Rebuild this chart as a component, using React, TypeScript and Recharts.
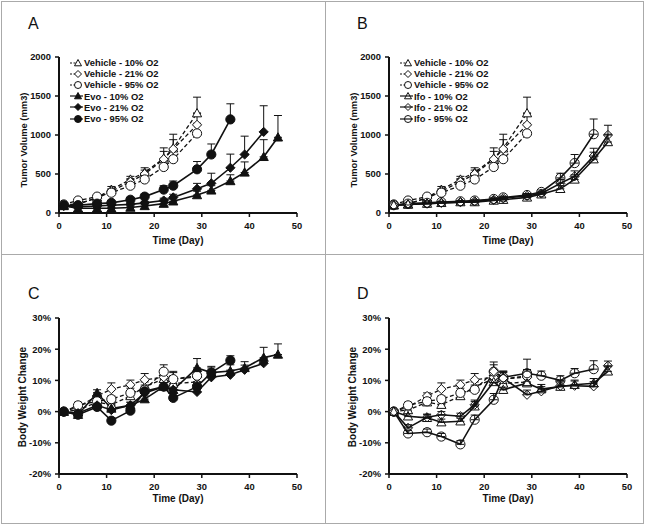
import React from "react";
import { LineChart, Line, XAxis, YAxis, ErrorBar } from "recharts";

const DAYS = [1, 4, 8, 11, 15, 18, 22, 24, 29, 32, 36, 39, 43, 46];
const X_TICKS = [0, 10, 20, 30, 40, 50];
const TV_TICKS = [0, 500, 1000, 1500, 2000];
const BW_TICKS = [-20, -10, 0, 10, 20, 30];

// tumor volume (mm3)
const vehTv10 = [100, 110, 200, 300, 430, 520, 700, 830, 1280];
const vehTv21 = [100, 120, 190, 280, 400, 500, 690, 820, 1130];
const vehTv95 = [110, 160, 210, 260, 350, 430, 590, 690, 1020];
const vehTv10Err = [10, 15, 20, 40, 40, 60, 135, 180, 205];
const vehTv21Err = [10, 10, 20, 30, 40, 50, 100, 120, 150];
const vehTv95Err = [10, 10, 20, 30, 40, 50, 80, 100, 130];

const evoTv10 = [90, 60, 60, 60, 70, 90, 120, 150, 230, 290, 410, 520, 720, 970];
const evoTv21 = [90, 80, 90, 100, 110, 130, 160, 200, 310, 380, 580, 750, 1040];
const evoTv95 = [100, 100, 120, 130, 170, 210, 300, 350, 560, 750, 1200];
const evoTv10Err = [10, 10, 10, 10, 15, 20, 30, 30, 50, 60, 80, 135, 220, 280];
const evoTv21Err = [10, 10, 10, 10, 20, 20, 30, 40, 70, 130, 175, 235, 335];
const evoTv95Err = [10, 10, 15, 20, 30, 30, 50, 60, 100, 135, 200];

const ifoTv10 = [100, 110, 120, 130, 140, 140, 160, 170, 200, 240, 310, 430, 690, 910];
const ifoTv21 = [100, 110, 120, 130, 140, 150, 170, 190, 220, 250, 380, 470, 730, 1000];
const ifoTv95 = [100, 120, 130, 140, 150, 160, 180, 200, 230, 270, 450, 640, 1010];
const ifoTv10Err = [10, 10, 10, 10, 10, 10, 15, 15, 20, 20, 40, 60, 90, 100];
const ifoTv21Err = [10, 10, 10, 10, 10, 10, 15, 15, 20, 20, 50, 70, 100, 125];
const ifoTv95Err = [10, 10, 10, 10, 10, 10, 15, 15, 20, 25, 60, 110, 195];

// body weight change (%)
const vehBw10 = [0, 0.5, 3, 2.2, 5, 8, 10.5, 9, 9.5];
const vehBw21 = [0, 1.5, 5, 7.2, 8.6, 10.2, 11, 10.5, 11];
const vehBw95 = [0, 2, 3.3, 4, 6, 7, 12.8, 10.4, 11.5];
const vehBw10Err = [0.5, 1, 1, 1, 1.5, 1.5, 2, 2, 3];
const vehBw21Err = [0.5, 1, 1, 2, 1.5, 2, 2, 2, 2];
const vehBw95Err = [0.5, 1, 1, 1, 1.5, 1.5, 2.2, 2.5, 2];

const evoBw10 = [0, -1, 6, 1, 2, 4, 8, 7, 14, 12.5, 13, 14, 17.3, 18.3];
const evoBw21 = [0, -0.5, 2, 0.5, 2, 6, 8, 7, 6.3, 11, 11.8, 13.4, 15.5];
const evoBw95 = [0, -1, 1.5, -2.9, 0.3, 6.5, 8, 4.4, 8, 12.5, 16.4];
const evoBw10Err = [0.5, 1, 1, 1, 1, 1, 1.5, 1.5, 3, 2, 2, 2, 3.3, 3.4];
const evoBw21Err = [0.5, 1, 1, 1, 1, 1, 1.5, 1.5, 1.5, 1.5, 1.5, 1.5, 1.5];
const evoBw95Err = [0.5, 1, 1, 1, 1, 1, 1.5, 1.5, 1.5, 1.5, 1.5];

const ifoBw10 = [0, -1.5, -2, -3.4, -3.1, 1.7, 9.5, 7, 9.1, 7.2, 8, 8.6, 9.1, 12.9];
const ifoBw21 = [0, -5.2, -1.8, -1, -1.5, 2.2, 12.9, 10.7, 5.4, 6.5, 8.3, 8.3, 8.1, 14.7];
const ifoBw95 = [0, -7, -6.6, -8, -10.5, -2.6, 3.8, 11, 12.3, 11.5, 10, 12.3, 13.6];
const ifoBw10Err = [0.5, 1, 1, 1, 1, 1.5, 2, 1.5, 1.5, 1.5, 1.5, 1.5, 1.5, 1.5];
const ifoBw21Err = [0.5, 1, 1, 1, 1, 1.5, 3, 2, 1.5, 1.5, 1.5, 1.5, 1.5, 1.5];
const ifoBw95Err = [0.5, 1, 1, 1, 1.2, 1.5, 2, 2, 4.5, 1.5, 1.5, 1.5, 2.7];

const VEH_LABELS = ["Vehicle - 10% O2", "Vehicle - 21% O2", "Vehicle - 95% O2"];
const EVO_LABELS = ["Evo - 10% O2", "Evo - 21% O2", "Evo - 95% O2"];
const IFO_LABELS = ["Ifo - 10% O2", "Ifo - 21% O2", "Ifo - 95% O2"];

type Shape = "triangle" | "diamond" | "circle";
type Series = { key: string; vals: number[]; errs: number[]; shape: Shape; fill: string; dashed: boolean; label: string };

const FONT = "'Liberation Sans', Arial, sans-serif";
const INK = "#111";

function makeSeries(prefix: string, vals: number[][], errs: number[][], fill: string, dashed: boolean, labels: string[]): Series[] {
  const shapes: Shape[] = ["triangle", "diamond", "circle"];
  return vals.map((v, i) => ({ key: prefix + i, vals: v, errs: errs[i], shape: shapes[i], fill, dashed, label: labels[i] }));
}

function buildRows(series: Series[]) {
  return DAYS.map((d, i) => {
    const r: any = { day: d };
    series.forEach((s) => {
      if (i < s.vals.length) {
        r[s.key] = s.vals[i];
        r[s.key + "E"] = [0, s.errs[i]];
      }
    });
    return r;
  });
}

function Marker({ cx, cy, shape, fill, s }: { cx: number; cy: number; shape: Shape; fill: string; s: number }) {
  const st = { fill, stroke: INK, strokeWidth: 1 };
  if (shape === "circle") return <circle cx={cx} cy={cy} r={s} {...st} />;
  if (shape === "diamond")
    return <polygon points={`${cx},${cy - s} ${cx + s},${cy} ${cx},${cy + s} ${cx - s},${cy}`} {...st} />;
  return <polygon points={`${cx},${cy - s} ${cx + s},${cy + s * 0.8} ${cx - s},${cy + s * 0.8}`} {...st} />;
}

function Legend({ series, left, top }: { series: Series[]; left: number; top: number }) {
  return (
    <div style={{ position: "absolute", left, top, fontFamily: FONT, fontSize: 9.4, fontWeight: 700, color: INK }}>
      {series.map((s) => (
        <div key={s.key} style={{ display: "flex", alignItems: "center", height: 11.2, whiteSpace: "nowrap" }}>
          <svg width={13} height={10} style={{ marginRight: 1 }}>
            <line x1={0} y1={5} x2={s.dashed ? 8 : 13} y2={5} stroke={INK} strokeWidth={1.2} strokeDasharray={s.dashed ? "2 1.5" : undefined} />
            <Marker cx={8} cy={5} shape={s.shape} fill={s.fill} s={3.5} />
          </svg>
          {s.label}
        </div>
      ))}
    </div>
  );
}

type PanelProps = {
  series: Series[];
  left: number;
  top: number;
  width: number;
  height: number;
  margin: { top: number; right: number; bottom: number; left: number };
  yDomain: [number, number];
  yTicks: number[];
  pct?: boolean;
};

const tickStyle = { fill: INK, fontSize: 9.4, fontWeight: 700, fontFamily: FONT };

function Panel({ series, left, top, width, height, margin, yDomain, yTicks, pct }: PanelProps) {
  const rows = buildRows(series);
  return (
    <div style={{ position: "absolute", left, top }}>
      <LineChart width={width} height={height} data={rows} margin={margin}>
        <XAxis
          dataKey="day"
          type="number"
          domain={[0, 50]}
          ticks={X_TICKS}
          height={25}
          tick={tickStyle}
          tickSize={4}
          tickMargin={5}
          axisLine={{ stroke: INK, strokeWidth: 2 }}
          tickLine={{ stroke: INK, strokeWidth: 1.5 }}
        />
        <YAxis
          type="number"
          domain={yDomain}
          ticks={yTicks}
          width={45}
          tick={tickStyle}
          tickSize={4}
          tickMargin={4}
          tickFormatter={(v) => (pct ? `${v}%` : `${v}`)}
          axisLine={{ stroke: INK, strokeWidth: 2 }}
          tickLine={{ stroke: INK, strokeWidth: 1.5 }}
        />
        {series.map((s) => (
          <Line
            key={s.key}
            dataKey={s.key}
            stroke={INK}
            strokeWidth={s.dashed ? 1.3 : 1.6}
            strokeDasharray={s.dashed ? "4 2.5" : undefined}
            isAnimationActive={false}
            dot={(p: any) =>
              p.cx == null || p.cy == null || p.value == null ? (
                <g key={s.key + p.index} />
              ) : (
                <g key={s.key + p.index}>
                  <Marker cx={p.cx} cy={p.cy} shape={s.shape} fill={s.fill} s={4.6} />
                </g>
              )
            }
            activeDot={false}
          >
            <ErrorBar dataKey={s.key + "E"} width={4} stroke={INK} strokeWidth={1} direction="y" />
          </Line>
        ))}
      </LineChart>
    </div>
  );
}

const vehTv = makeSeries("vt", [vehTv10, vehTv21, vehTv95], [vehTv10Err, vehTv21Err, vehTv95Err], "#fff", true, VEH_LABELS);
const evoTv = makeSeries("et", [evoTv10, evoTv21, evoTv95], [evoTv10Err, evoTv21Err, evoTv95Err], INK, false, EVO_LABELS);
const ifoTv = makeSeries("it", [ifoTv10, ifoTv21, ifoTv95], [ifoTv10Err, ifoTv21Err, ifoTv95Err], "none", false, IFO_LABELS);
const vehBw = makeSeries("vb", [vehBw10, vehBw21, vehBw95], [vehBw10Err, vehBw21Err, vehBw95Err], "#fff", true, VEH_LABELS);
const evoBw = makeSeries("eb", [evoBw10, evoBw21, evoBw95], [evoBw10Err, evoBw21Err, evoBw95Err], INK, false, EVO_LABELS);
const ifoBw = makeSeries("ib", [ifoBw10, ifoBw21, ifoBw95], [ifoBw10Err, ifoBw21Err, ifoBw95Err], "none", false, IFO_LABELS);

const letterStyle: React.CSSProperties = { position: "absolute", fontFamily: FONT, fontSize: 16, color: INK };
const titleStyle: React.CSSProperties = { position: "absolute", fontFamily: FONT, fontSize: 10, fontWeight: 700, color: INK, whiteSpace: "nowrap" };

function YTitle({ text, x, y, size }: { text: string; x: number; y: number; size: number }) {
  return (
    <div style={{ ...titleStyle, fontSize: size, left: x, top: y, transform: "translate(-50%, -50%) rotate(-90deg)" }}>{text}</div>
  );
}

function XTitle({ x, y }: { x: number; y: number }) {
  return <div style={{ ...titleStyle, left: x, top: y, transform: "translate(-50%, -50%)" }}>Time (Day)</div>;
}

export default function App() {
  const topMargin = { top: 57, right: 25, bottom: 16, left: 14 };
  const topMarginB = { top: 57, right: 18, bottom: 16, left: 19 };
  const botMargin = { top: 64, right: 25, bottom: 25, left: 14 };
  const botMarginD = { top: 64, right: 18, bottom: 25, left: 19 };
  return (
    <div style={{ position: "absolute", left: 0, top: 0, width: 645, height: 525, background: "#fff", overflow: "hidden" }}>
      <div style={{ position: "absolute", left: 1, top: 1, width: 641, height: 521, border: "1px solid #aaa" }} />
      <div style={{ position: "absolute", left: 325, top: 1, width: 1, height: 522, background: "#aaa" }} />
      <div style={{ position: "absolute", left: 1, top: 254, width: 642, height: 1, background: "#aaa" }} />

      <div style={{ ...letterStyle, left: 28, top: 15 }}>A</div>
      <div style={{ ...letterStyle, left: 357, top: 15 }}>B</div>
      <div style={{ ...letterStyle, left: 28, top: 285 }}>C</div>
      <div style={{ ...letterStyle, left: 357, top: 285 }}>D</div>

      <Panel series={[...vehTv, ...evoTv]} left={0} top={0} width={322} height={254} margin={topMargin} yDomain={[0, 2000]} yTicks={TV_TICKS} />
      <Panel series={[...vehTv, ...ifoTv]} left={325} top={0} width={320} height={254} margin={topMarginB} yDomain={[0, 2000]} yTicks={TV_TICKS} />
      <Panel series={[...vehBw, ...evoBw]} left={0} top={254} width={322} height={270} margin={botMargin} yDomain={[-20, 30]} yTicks={BW_TICKS} pct />
      <Panel series={[...vehBw, ...ifoBw]} left={325} top={254} width={320} height={270} margin={botMarginD} yDomain={[-20, 30]} yTicks={BW_TICKS} pct />

      <Legend series={[...vehTv, ...evoTv]} left={70} top={57} />
      <Legend series={[...vehTv, ...ifoTv]} left={400} top={57} />

      <YTitle text="Tumor Volume (mm3)" x={23} y={140} size={9.4} />
      <YTitle text="Tumor Volume (mm3)" x={353} y={140} size={9.4} />
      <YTitle text="Body Weight Change" x={22} y={397} size={10} />
      <YTitle text="Body Weight Change" x={352} y={397} size={10} />

      <XTitle x={178} y={240} />
      <XTitle x={508} y={240} />
      <XTitle x={178} y={498} />
      <XTitle x={508} y={498} />
    </div>
  );
}
